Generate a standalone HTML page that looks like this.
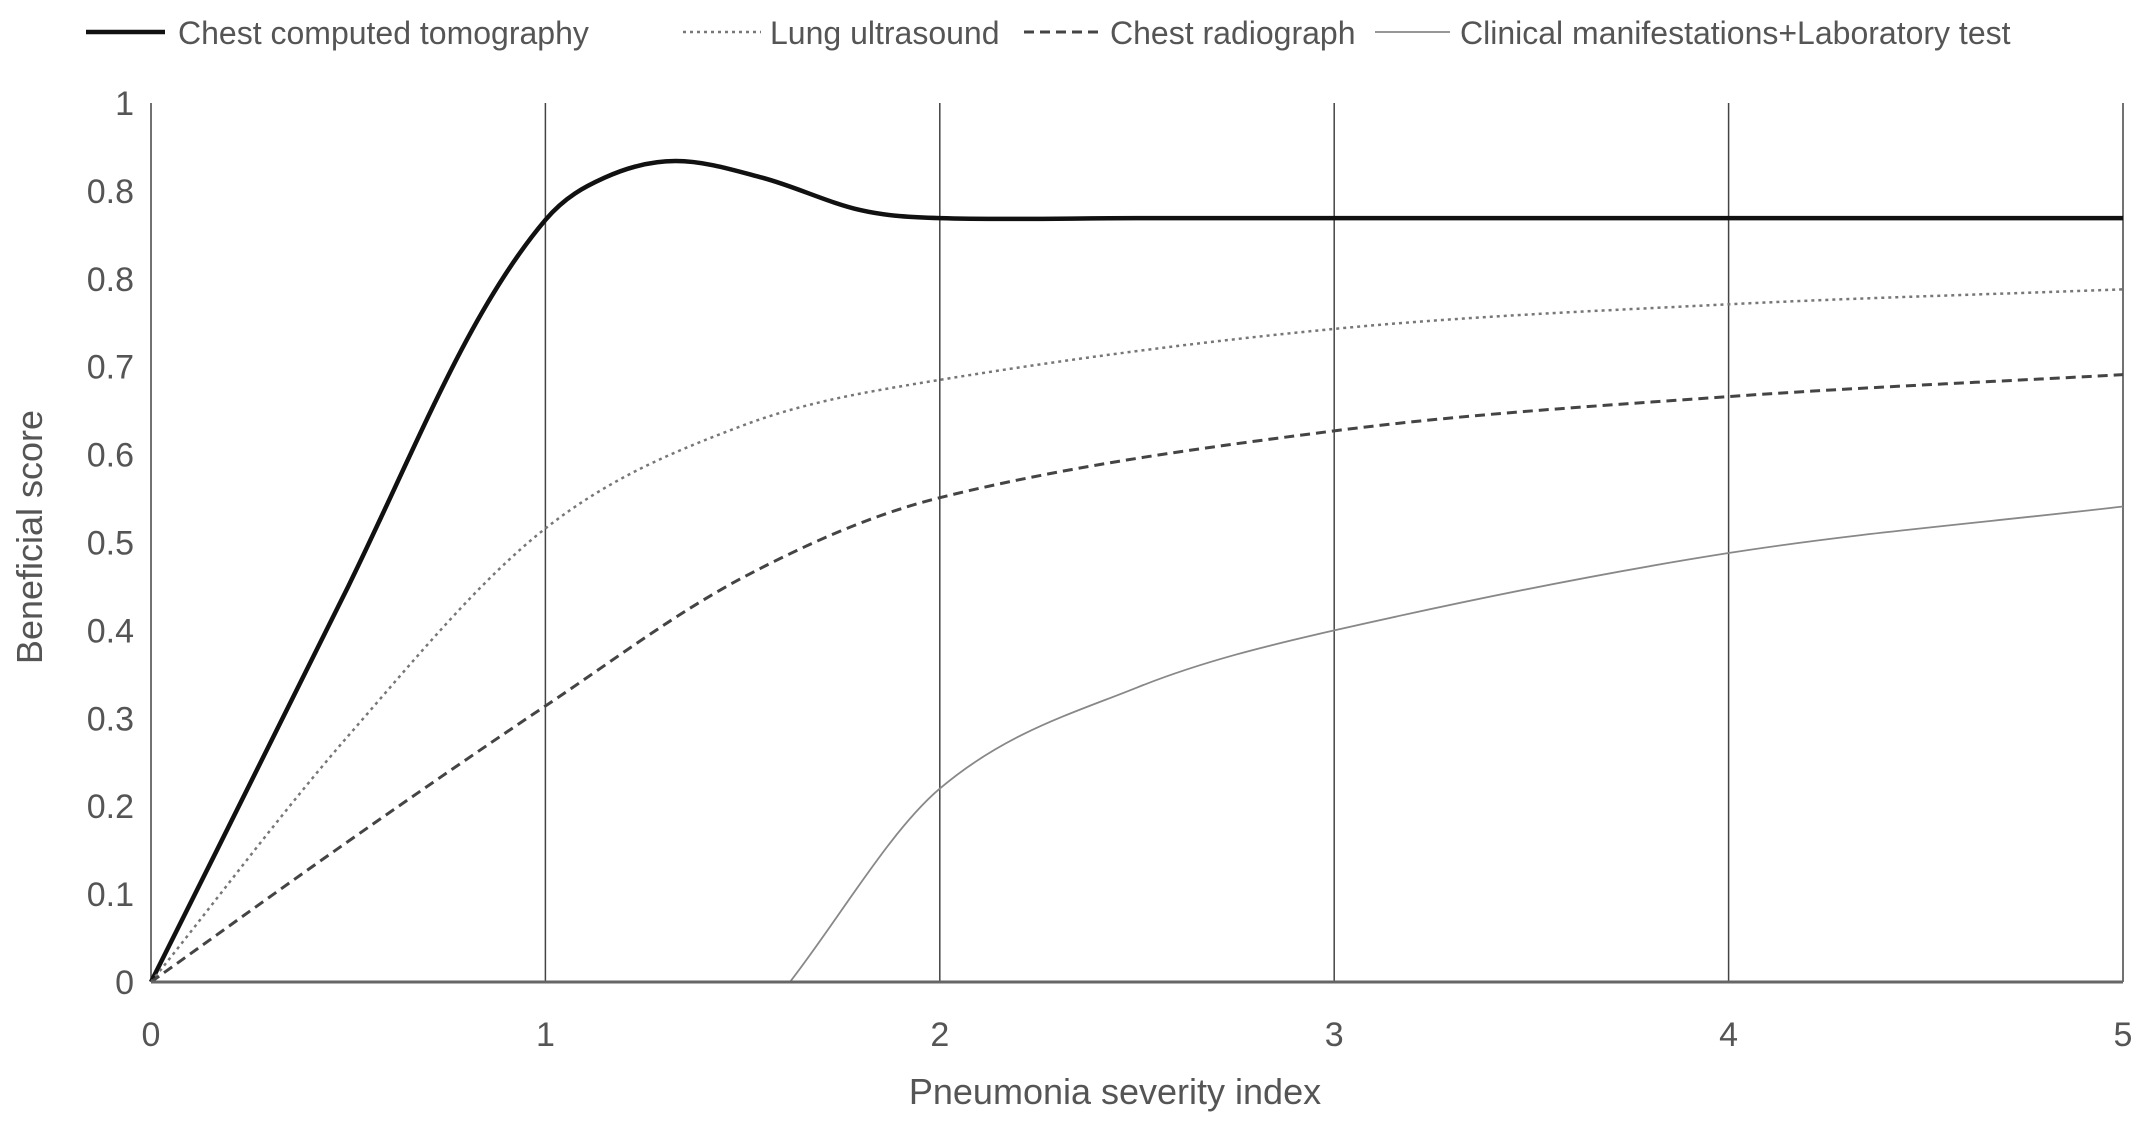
<!DOCTYPE html>
<html><head><meta charset="utf-8"><style>
html,body{margin:0;padding:0;background:#fff}
svg{display:block}
text{font-family:"Liberation Sans",sans-serif;fill:#555}
</style></head><body>
<svg id="chart" width="2150" height="1129">
<g id="grid"></g><g id="series"></g><g id="axes"></g><g id="legend"></g>
<text x="1115" y="1104" font-size="36" text-anchor="middle">Pneumonia severity index</text>
<text transform="translate(42,537) rotate(-90)" font-size="36" text-anchor="middle">Beneficial score</text>
</svg>
<script>
const xTicks=[0,1,2,3,4,5];
const yTickValues=[0,0.1,0.2,0.3,0.4,0.5,0.6,0.7,0.8,0.9,1];
const yTickLabels=["0","0.1","0.2","0.3","0.4","0.5","0.6","0.7","0.8","0.8","1"];
const ctX=[0,0.5,0.8,1,1.15,1.33,1.55,1.8,2,2.5,3,4,5];
const ctY=[0,0.45,0.73,0.867,0.915,0.934,0.915,0.878,0.869,0.869,0.869,0.869,0.869];
const lusX=[0,0.5,1,1.5,2,3,4,5];
const lusY=[0,0.28,0.516,0.633,0.685,0.743,0.771,0.788];
const crX=[0,0.5,1,1.5,2,3,4,5];
const crY=[0,0.16,0.314,0.46,0.551,0.627,0.666,0.691];
const clX=[1.62,2,2.5,3,4,5];
const clY=[0,0.22,0.335,0.40,0.488,0.541];
const X0=151,X1=2123,Y0=982,Y1=103;
const sx=v=>X0+(X1-X0)*v/5, sy=v=>Y0-(Y0-Y1)*v;
const NS="http://www.w3.org/2000/svg";
function mk(p,tag,attrs){const e=document.createElementNS(NS,tag);for(const k in attrs)e.setAttribute(k,attrs[k]);document.getElementById(p).appendChild(e);return e;}
xTicks.forEach(t=>{
 const l=mk('grid','line',{x1:sx(t),x2:sx(t),y1:Y1,y2:Y0,stroke:'#444','stroke-width':1.5});
 
 
 const tx=mk('axes','text',{x:sx(t),y:1046,'font-size':34,'text-anchor':'middle'});tx.textContent=t;
 
 
});
yTickValues.forEach((v,i)=>{
 const tx=mk('axes','text',{x:134,y:sy(v)+12,'font-size':34,'text-anchor':'end'});tx.textContent=yTickLabels[i];
 
 
});
const ax=mk('axes','line',{x1:X0,x2:X1,y1:Y0,y2:Y0,stroke:'#666','stroke-width':3});


function pathD(xs,ys){
 const P=xs.map((x,i)=>[sx(x),sy(ys[i])]);const n=P.length;
 const m=P.map((p,i)=>{const a=P[Math.max(0,i-1)],b=P[Math.min(n-1,i+1)];return (b[1]-a[1])/(b[0]-a[0]);});
 let d='M'+P[0][0]+','+P[0][1];
 for(let i=0;i<n-1;i++){const p1=P[i],p2=P[i+1],dx=(p2[0]-p1[0])/3;
  d+=' C'+(p1[0]+dx)+','+(p1[1]+m[i]*dx)+' '+(p2[0]-dx)+','+(p2[1]-m[i+1]*dx)+' '+p2;}
 return d;}
const S=[
 [ctX,ctY,'#111',4.5,'','ct-line'],
 [lusX,lusY,'#777',2.5,'3 4','lung-ultrasound-line'],
 [crX,crY,'#444',3,'10 6','chest-radiograph-line'],
 [clX,clY,'#888',1.8,'','clinical-lab-line']];
S.forEach(s=>{
 const p=mk('series','path',{d:pathD(s[0],s[1]),fill:'none',stroke:s[2],'stroke-width':s[3],'stroke-dasharray':s[4]});
 
 
});
const L=[[86,165,178,'Chest computed tomography',0],[683,761,770,'Lung ultrasound',1],[1024,1101,1110,'Chest radiograph',2],[1375,1450,1460,'Clinical manifestations+Laboratory test',3]];
L.forEach(l=>{const s=S[l[4]];
 const g=mk('legend','g',{});
 
 
 const ln=document.createElementNS(NS,'line');[['x1',l[0]],['x2',l[1]],['y1',32],['y2',32],['stroke',s[2]],['stroke-width',s[3]],['stroke-dasharray',s[4]]].forEach(a=>ln.setAttribute(a[0],a[1]));g.appendChild(ln);
 const t=document.createElementNS(NS,'text');t.setAttribute('x',l[2]);t.setAttribute('y',44);t.setAttribute('font-size',32);t.textContent=l[3];g.appendChild(t);
});
</script>
</body></html>
